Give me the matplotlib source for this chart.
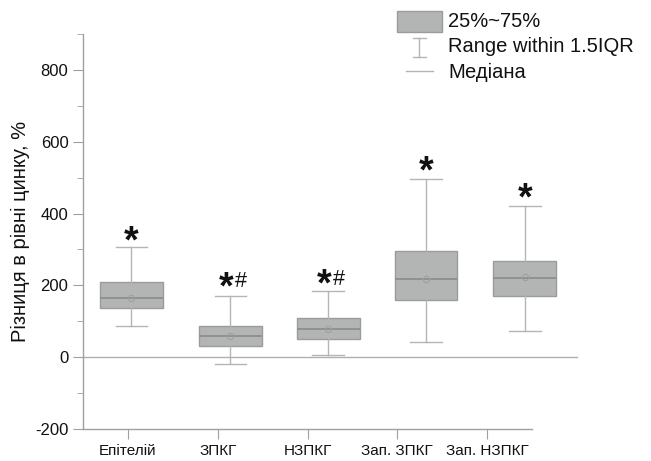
import matplotlib
matplotlib.use("Agg")
import matplotlib.pyplot as plt
from matplotlib.patches import Rectangle
from matplotlib.lines import Line2D
from matplotlib.ticker import MultipleLocator

plt.rcParams['font.family'] = ['Liberation Sans', 'DejaVu Sans']
plt.rcParams['axes.unicode_minus'] = False

categories = ['Епітелій', 'ЗПКГ', 'НЗПКГ', 'Зап. ЗПКГ', 'Зап. НЗПКГ']
q1 = [137, 31, 52, 158, 169]
q3 = [208, 88, 109, 297, 269]
medians = [164, 59, 78, 217, 221]
means = [164, 58, 79, 218, 222]
whislo = [86, -18, 7, 42, 72]
whishi = [308, 169, 184, 495, 421]
marks = ['*', '*#', '*#', '*', '*']
mark_y = [337, 208, 215, 530, 457]
tick_positions = [1, 2, 3, 4, 5]
box_positions = [1.04, 2.14, 3.23, 4.32, 5.42]

fig = plt.figure(figsize=(6.51, 4.61), dpi=100)
ax = fig.add_axes([83/651, 32/461, (532-83)/651, (429-34)/461])

stats = []
for i in range(len(categories)):
    stats.append(dict(med=medians[i], q1=q1[i], q3=q3[i], whislo=whislo[i],
                      whishi=whishi[i], mean=means[i], fliers=[], label=categories[i]))

face = '#b3b5b5'
edge = '#9a9c9c'
wc = '#b5b5b5'
bp = ax.bxp(stats, positions=box_positions, widths=0.70, capwidths=0.35,
            patch_artist=True, showmeans=True, showfliers=False,
            boxprops=dict(facecolor=face, edgecolor=edge, linewidth=1.0),
            medianprops=dict(color='#8a8c8c', linewidth=1.2),
            whiskerprops=dict(color=wc, linewidth=1.0),
            capprops=dict(color=wc, linewidth=1.0),
            meanprops=dict(marker='o', markerfacecolor='none', markeredgecolor='#a0a0a0',
                           markersize=4.5, markeredgewidth=0.8))
for key in bp:
    for art in bp[key]:
        art.set_clip_on(False)

# zero line
ax.plot([0.5, 6.0], [0, 0], color='#b0b0b0', linewidth=1.0, clip_on=False, zorder=1)

# significance marks (mark_y = visual centre of the glyphs)
for i, m in enumerate(marks):
    if m == '*':
        ax.annotate('*', (box_positions[i], mark_y[i]), xytext=(0, -11.5),
                    textcoords='offset points', ha='center', va='baseline',
                    fontsize=27, fontweight='bold', color='#111111')
    else:
        ax.annotate('*', (box_positions[i], mark_y[i]), xytext=(-3.2, -11.5),
                    textcoords='offset points', ha='center', va='baseline',
                    fontsize=27, fontweight='bold', color='#111111')
        ax.annotate('#', (box_positions[i], mark_y[i]), xytext=(7.6, -3.6),
                    textcoords='offset points', ha='center', va='baseline',
                    fontsize=15.5, color='#111111')

ax.set_xlim(0.5, 5.5)
ax.set_ylim(-200, 900)
ax.set_xticks(tick_positions)
ax.set_xticklabels(categories, fontsize=11, color='#111111')
ax.yaxis.set_major_locator(MultipleLocator(200))
ax.yaxis.set_minor_locator(MultipleLocator(100))
ax.tick_params(axis='y', which='major', length=7, color='#a0a0a0', labelsize=12, labelcolor='#111111')
ax.tick_params(axis='y', which='minor', length=4, color='#a0a0a0')
ax.tick_params(axis='x', which='major', length=7, color='#a0a0a0', pad=4)
ax.set_yticks([-200, 0, 200, 400, 600, 800])
ax.set_ylabel('Різниця в рівні цинку, %', fontsize=14.5, color='#111111')
ax.yaxis.set_label_coords(-0.118, 0.5)
for s in ['top', 'right']:
    ax.spines[s].set_visible(False)
for s in ['left', 'bottom']:
    ax.spines[s].set_color('#a0a0a0')
    ax.spines[s].set_linewidth(1.0)

# legend (drawn in figure pixel coordinates)
W, H = 651.0, 461.0
def fx(px): return px / W
def fy(py): return 1 - py / H

fig.add_artist(Rectangle((fx(397), fy(32.3)), fx(441.7) - fx(397), fy(10.7) - fy(32.3),
                         transform=fig.transFigure, facecolor=face, edgecolor=edge, linewidth=1.0))
fig.add_artist(Line2D([fx(419.3), fx(419.3)], [fy(38.5), fy(57)], transform=fig.transFigure,
                      color=wc, linewidth=1.0))
fig.add_artist(Line2D([fx(413), fx(425.7)], [fy(38.5), fy(38.5)], transform=fig.transFigure,
                      color=wc, linewidth=1.0))
fig.add_artist(Line2D([fx(413), fx(425.7)], [fy(57), fy(57)], transform=fig.transFigure,
                      color=wc, linewidth=1.0))
fig.add_artist(Line2D([fx(406), fx(432.7)], [fy(70.7), fy(70.7)], transform=fig.transFigure,
                      color=wc, linewidth=1.0))
legend_texts = ['25%~75%', 'Range within 1.5IQR', 'Медіана']
legend_y = [21.7, 46.7, 72.7]
for t, yy in zip(legend_texts, legend_y):
    fig.text(fx(448), fy(yy), t, ha='left', va='center', fontsize=14.5, color='#111111')

fig.savefig('out.png', dpi=100)
